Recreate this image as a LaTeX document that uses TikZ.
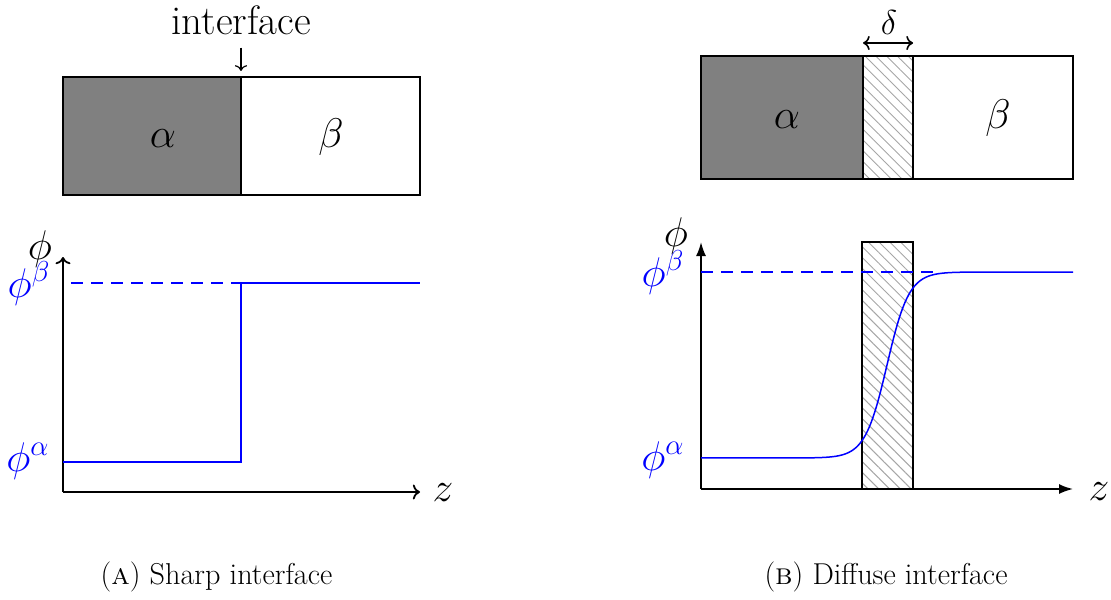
\documentclass[tikz,border=0pt]{standalone}
\usetikzlibrary{patterns.meta,arrows.meta}
\begin{document}
\begin{tikzpicture}[x=0.5pt,y=-0.5pt,
  lbl/.style={font=\fontsize{20.5}{24}\selectfont, inner sep=0pt},
  smalllbl/.style={font=\fontsize{16}{19}\selectfont, inner sep=0pt},
  captext/.style={font=\fontsize{15.1}{18}\selectfont, inner sep=0pt},
  frame/.style={draw=black, line width=1pt},
  curve/.style={draw=blue, line width=0.9pt},
  dashcurve/.style={draw=blue, line width=0.9pt, dash pattern=on 6pt off 4pt},
  axis/.style={draw=black, line width=0.9pt},
  hatch/.style={pattern={Lines[angle=-45,distance=3.8pt,line width=0.5pt]}, pattern color=black!35},
]
\useasboundingbox (0,0) rectangle (1111,599);

% ---------- left: sharp interface ----------
\fill[black!50] (63,77) rectangle (241,195);
\draw[frame] (63,77) rectangle (420,195);
\draw[frame] (241,77) -- (241,195);
\node[lbl, anchor=base] (aA) at (163,147) {$\alpha$};
\node[lbl, anchor=base] (bA) at (331,147) {$\beta$};
\node[lbl, anchor=base] (iface) at (241,35) {interface};
\coordinate (ifaceTop) at (241,71);
\draw[line width=0.6pt,->,shorten <=6pt] (iface) -- (ifaceTop);

\coordinate (O1) at (63,492);
\coordinate (Y1) at (63,257);
\coordinate (X1) at (420,492);
\draw[axis,->] (O1) -- (Y1);
\draw[axis,->] (O1) -- (X1);
\draw[curve] (63,462) -- (241,462) -- (241,283) -- (420,283);
\draw[dashcurve] (71,283) -- (241,283);
\node[lbl, anchor=base] (phiA) at (40,259) {$\phi$};
\node[lbl, anchor=base, text=blue] (pbA) at (29,297) {$\phi^\beta$};
\node[lbl, anchor=base, text=blue] (paA) at (28,471) {$\phi^\alpha$};
\node[lbl, anchor=base] (zA) at (443,501) {$z$};

% ---------- right: diffuse interface ----------
\fill[black!50] (701,56) rectangle (863,179);
\fill[hatch] (863,56) rectangle (913,179);
\draw[frame] (701,56) rectangle (1073,179);
\draw[frame] (863,56) -- (863,179) (913,56) -- (913,179);
\node[lbl, anchor=base] (aB) at (787,128) {$\alpha$};
\node[lbl, anchor=base] (bB) at (998,128) {$\beta$};
\coordinate (dL) at (863,43);
\coordinate (dR) at (913,43);
\draw[line width=0.8pt,<->] (dL) -- (dR);
\node[smalllbl, anchor=base] (delta) at (889,35) {$\delta$};

\coordinate (O2) at (701,489);
\coordinate (Y2) at (701,242);
\coordinate (X2) at (1073,489);
\fill[hatch] (862,242) rectangle (913,489);
\draw[frame] (862,242) rectangle (913,489);
\draw[axis,-{Latex[length=7pt,width=5pt]}] (O2) -- (Y2);
\draw[axis,-{Latex[length=7pt,width=5pt]}] (O2) -- (X2);
\draw[dashcurve] (701,272) -- (940,272);
\draw[curve, line width=0.75pt] plot[domain=701:1073,samples=200]
  (\x,{458-186/(1+exp(-2*max(-4.5,min(4.5,(\x-887)/22))))});
\node[lbl, anchor=base] (phiB) at (676,246) {$\phi$};
\node[lbl, anchor=base, text=blue] (pbB) at (663,286) {$\phi^\beta$};
\node[lbl, anchor=base, text=blue] (paB) at (663,470) {$\phi^\alpha$};
\node[lbl, anchor=base] (zB) at (1099,500) {$z$};

% ---------- captions ----------
\node[captext, anchor=base] (capA) at (216.5,584) {(\textsc{a}) Sharp interface};
\node[captext, anchor=base] (capB) at (886,584) {(\textsc{b}) Diffuse interface};
\end{tikzpicture}
\end{document}
